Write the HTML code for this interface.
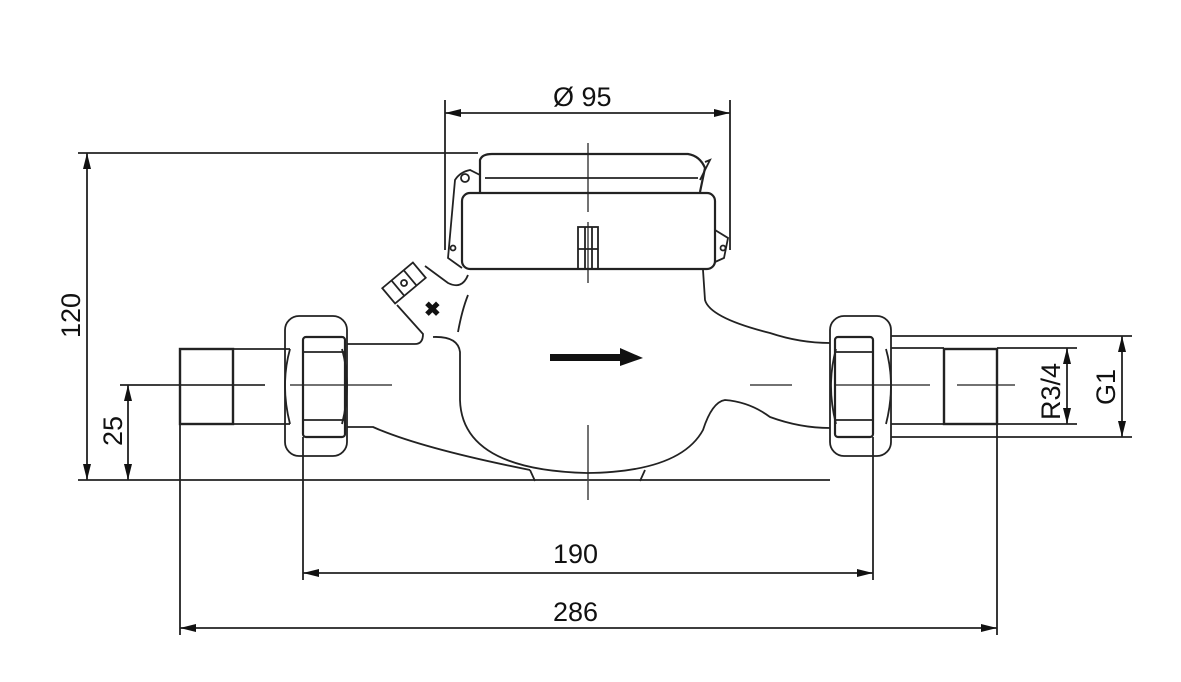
<!DOCTYPE html>
<html><head><style>
html,body{margin:0;padding:0;background:#fff}
svg{display:block}
text{font-family:"Liberation Sans",Arial,sans-serif;font-size:27px;fill:#111}
</style></head><body>
<svg width="1181" height="682" viewBox="0 0 1181 682" xmlns="http://www.w3.org/2000/svg">
<defs>
<marker id="a" viewBox="0 0 16 8" refX="16" refY="4" markerWidth="16" markerHeight="8" orient="auto-start-reverse" markerUnits="userSpaceOnUse">
<path d="M0,0 L16,4 L0,8 Z" fill="#111"/></marker>
</defs>
<g fill="none" stroke="#222" stroke-width="1.8">
<line x1="445" y1="100" x2="445" y2="250"/>
<line x1="730" y1="100" x2="730" y2="250"/>
<line x1="78" y1="153" x2="478" y2="153"/>
<line x1="78" y1="480" x2="830" y2="480"/>
<line x1="120" y1="385" x2="265" y2="385"/>
<line x1="180" y1="424" x2="180" y2="635"/>
<line x1="997" y1="424" x2="997" y2="635"/>
<line x1="303" y1="437" x2="303" y2="580"/>
<line x1="873" y1="437" x2="873" y2="580"/>
<line x1="891" y1="336" x2="1132" y2="336"/>
<line x1="997" y1="348" x2="1077" y2="348"/>
<line x1="997" y1="424" x2="1077" y2="424"/>
<line x1="891" y1="437" x2="1132" y2="437"/>
<line x1="445" y1="113" x2="730" y2="113" marker-start="url(#a)" marker-end="url(#a)"/>
<line x1="87" y1="153" x2="87" y2="480" marker-start="url(#a)" marker-end="url(#a)"/>
<line x1="128" y1="385" x2="128" y2="480" marker-start="url(#a)" marker-end="url(#a)"/>
<line x1="303" y1="573" x2="873" y2="573" marker-start="url(#a)" marker-end="url(#a)"/>
<line x1="180" y1="628" x2="997" y2="628" marker-start="url(#a)" marker-end="url(#a)"/>
<line x1="1067" y1="348" x2="1067" y2="424" marker-start="url(#a)" marker-end="url(#a)"/>
<line x1="1122" y1="336" x2="1122" y2="437" marker-start="url(#a)" marker-end="url(#a)"/>
<g stroke="#444" stroke-width="1.5">
<line x1="160" y1="385" x2="265" y2="385"/>
<line x1="290" y1="385" x2="392" y2="385"/>
<line x1="750" y1="385" x2="792" y2="385"/>
<line x1="835" y1="385" x2="930" y2="385"/>
<line x1="957" y1="385" x2="1015" y2="385"/>
<line x1="588" y1="143" x2="588" y2="212"/>
<line x1="588" y1="222" x2="588" y2="283"/>
<line x1="588" y1="425" x2="588" y2="500"/>
</g>
<rect x="180" y="349" width="53" height="75" stroke-width="2.4"/>
<line x1="233" y1="349" x2="290" y2="349"/>
<line x1="233" y1="424" x2="290" y2="424"/>
<rect x="285" y="316" width="62" height="140" rx="14"/>
<rect x="303" y="337" width="42" height="100" rx="3" stroke-width="2.2"/>
<path d="M290,349 Q280,385 290,424 M342,349 Q352,385 342,424"/>
<line x1="303" y1="352" x2="345" y2="352"/>
<line x1="303" y1="420" x2="345" y2="420"/>
<rect x="830" y="316" width="61" height="140" rx="14"/>
<rect x="835" y="337" width="38" height="100" rx="3" stroke-width="2.2"/>
<path d="M836,349 Q826,385 836,424 M886,349 Q896,385 886,424"/>
<line x1="835" y1="352" x2="873" y2="352"/>
<line x1="835" y1="420" x2="873" y2="420"/>
<line x1="891" y1="348" x2="944" y2="348"/>
<line x1="891" y1="424" x2="944" y2="424"/>
<rect x="944" y="349" width="53" height="75" stroke-width="2.4"/>
<path d="M347,344 L415,344 Q423,344 423,334 L397,305"/>
<path d="M425,266 L448,283 Q462,290 468,275"/>
<path d="M458,332 Q462,310 468,295"/>
<path d="M433,337 Q458,336 460,352 L460,400 Q462,470 587,473 Q680,472 703,430 Q712,402 725,400 Q750,402 770,417 Q800,428 830,428"/>
<path d="M347,427 L373,427 Q420,448 530,470"/>
<path d="M703,270 L705,300 Q710,318 770,333 Q800,343 830,343"/>
<path d="M530,470 L535,481 M645,470 L640,481"/>
<g transform="translate(404,283) rotate(-40)">
<rect x="-20" y="-10" width="40" height="20"/>
<line x1="-8" y1="-10" x2="-8" y2="10"/><line x1="8" y1="-10" x2="8" y2="10"/>
<circle cx="0" cy="0" r="3"/>
</g>
<rect x="462" y="193" width="253" height="76" rx="8" stroke-width="2.2"/>
<path d="M480,192 L480,160 Q482,154 492,154 L688,154 Q700,156 705,168 L700,192" stroke-width="2.2"/>
<path d="M705,162 L710,160 L700,180"/>
<line x1="485" y1="178" x2="698" y2="178"/>
<path d="M462,268 L448,258 L455,180 Q460,172 470,170 L480,175"/>
<circle cx="465" cy="178" r="4"/>
<circle cx="453" cy="248" r="2.5"/>
<path d="M715,230 L728,238 L724,258 L715,262"/>
<circle cx="723" cy="248" r="2.5"/>
<rect x="578" y="227" width="20" height="42"/>
<line x1="585" y1="227" x2="585" y2="269"/><line x1="592" y1="227" x2="592" y2="269"/>
<line x1="578" y1="249" x2="598" y2="249"/>
</g>
<text x="424" y="316" style="font-size:20px;font-weight:bold">✖</text>
<path d="M550,354 L620,354 L620,348 L643,358 L620,366 L620,361 L550,361 Z" fill="#111"/>
<text x="553" y="106">Ø 95</text>
<text x="553" y="563">190</text>
<text x="553" y="621">286</text>
<text transform="translate(80,338) rotate(-90)">120</text>
<text transform="translate(122,446) rotate(-90)">25</text>
<text transform="translate(1060,420) rotate(-90)">R3/4</text>
<text transform="translate(1115,405) rotate(-90)">G1</text>
</svg>
</body></html>
